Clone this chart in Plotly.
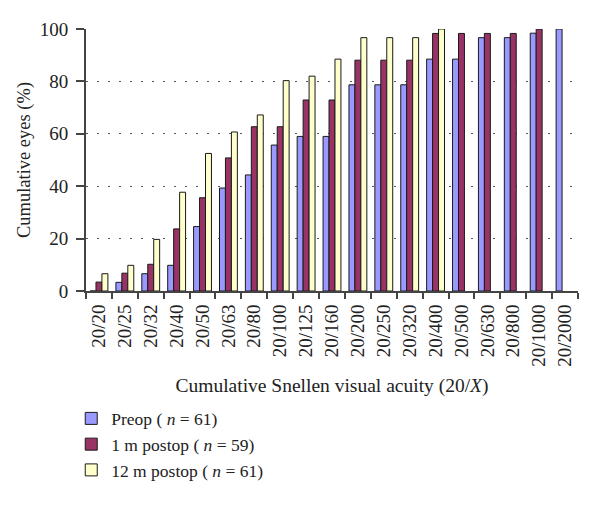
import plotly.graph_objects as go

categories = ["20/20", "20/25", "20/32", "20/40", "20/50", "20/63", "20/80", "20/100",
              "20/125", "20/160", "20/200", "20/250", "20/320", "20/400", "20/500",
              "20/630", "20/800", "20/1000", "20/2000"]
preop = [0, 3.3, 6.6, 9.8, 24.6, 39.3, 44.3, 55.7, 59.0, 59.0, 78.7, 78.7, 78.7,
         88.5, 88.5, 96.7, 96.7, 98.4, 100]
m1 = [3.4, 6.8, 10.2, 23.7, 35.6, 50.8, 62.7, 62.7, 72.9, 72.9, 88.1, 88.1, 88.1,
      98.3, 98.3, 98.3, 98.3, 100, None]
m12 = [6.6, 9.8, 19.7, 37.7, 52.5, 60.7, 67.2, 80.3, 82.0, 88.5, 96.7, 96.7, 96.7,
       100, None, None, None, None, None]

series_names = ["Preop ( <i>n</i> = 61)", "1 m postop ( <i>n</i> = 59)", "12 m postop ( <i>n</i> = 61)"]
series_colors = ["#9999FF", "#993366", "#FFFFCC"]

FONT = "Liberation Serif"
fig = go.Figure()
for name, vals, col in zip(series_names, [preop, m1, m12], series_colors):
    fig.add_trace(go.Bar(x=categories, y=vals, name=name,
                         marker=dict(color=col, line=dict(color="#1a1a1a", width=1))))

fig.update_layout(
    width=600, height=509,
    margin=dict(l=78, r=30, t=21, b=226, autoexpand=False),
    paper_bgcolor="white", plot_bgcolor="white",
    barmode="group", bargap=0.31, bargroupgap=0,
    font=dict(family=FONT, size=19, color="#222"),
    showlegend=True,
    legend=dict(x=-0.03, y=-0.418, xanchor="left", yanchor="top",
                orientation="v", font=dict(family=FONT, size=17.5, color="#222"),
                itemwidth=30, tracegroupgap=0, bgcolor="rgba(0,0,0,0)"),
)
fig.update_xaxes(
    type="category", showline=True, linecolor="#444", linewidth=2, automargin=False,
    ticks="outside", tickson="boundaries", ticklen=6, tickcolor="#444", tickwidth=2,
    tickangle=-90, tickfont=dict(family=FONT, size=19, color="#222"), ticklabelstandoff=4,
    showgrid=False,
    title=dict(text="Cumulative Snellen visual acuity (20/<i>X</i>)",
               font=dict(family=FONT, size=19.5, color="#222"), standoff=12),
)
fig.update_yaxes(
    range=[0, 100], tickvals=[0, 20, 40, 60, 80, 100], automargin=False,
    showline=True, linecolor="#444", linewidth=2,
    ticks="outside", ticklen=8, tickcolor="#444", tickwidth=2,
    tickfont=dict(family=FONT, size=19, color="#222"), ticklabelstandoff=4,
    showgrid=True, gridcolor="#555", gridwidth=1, griddash="2px,9px",
    zeroline=False,
    title=dict(text="Cumulative eyes (%)", font=dict(family=FONT, size=18.5, color="#222"),
               standoff=4),
)
fig.write_html("out.html")
